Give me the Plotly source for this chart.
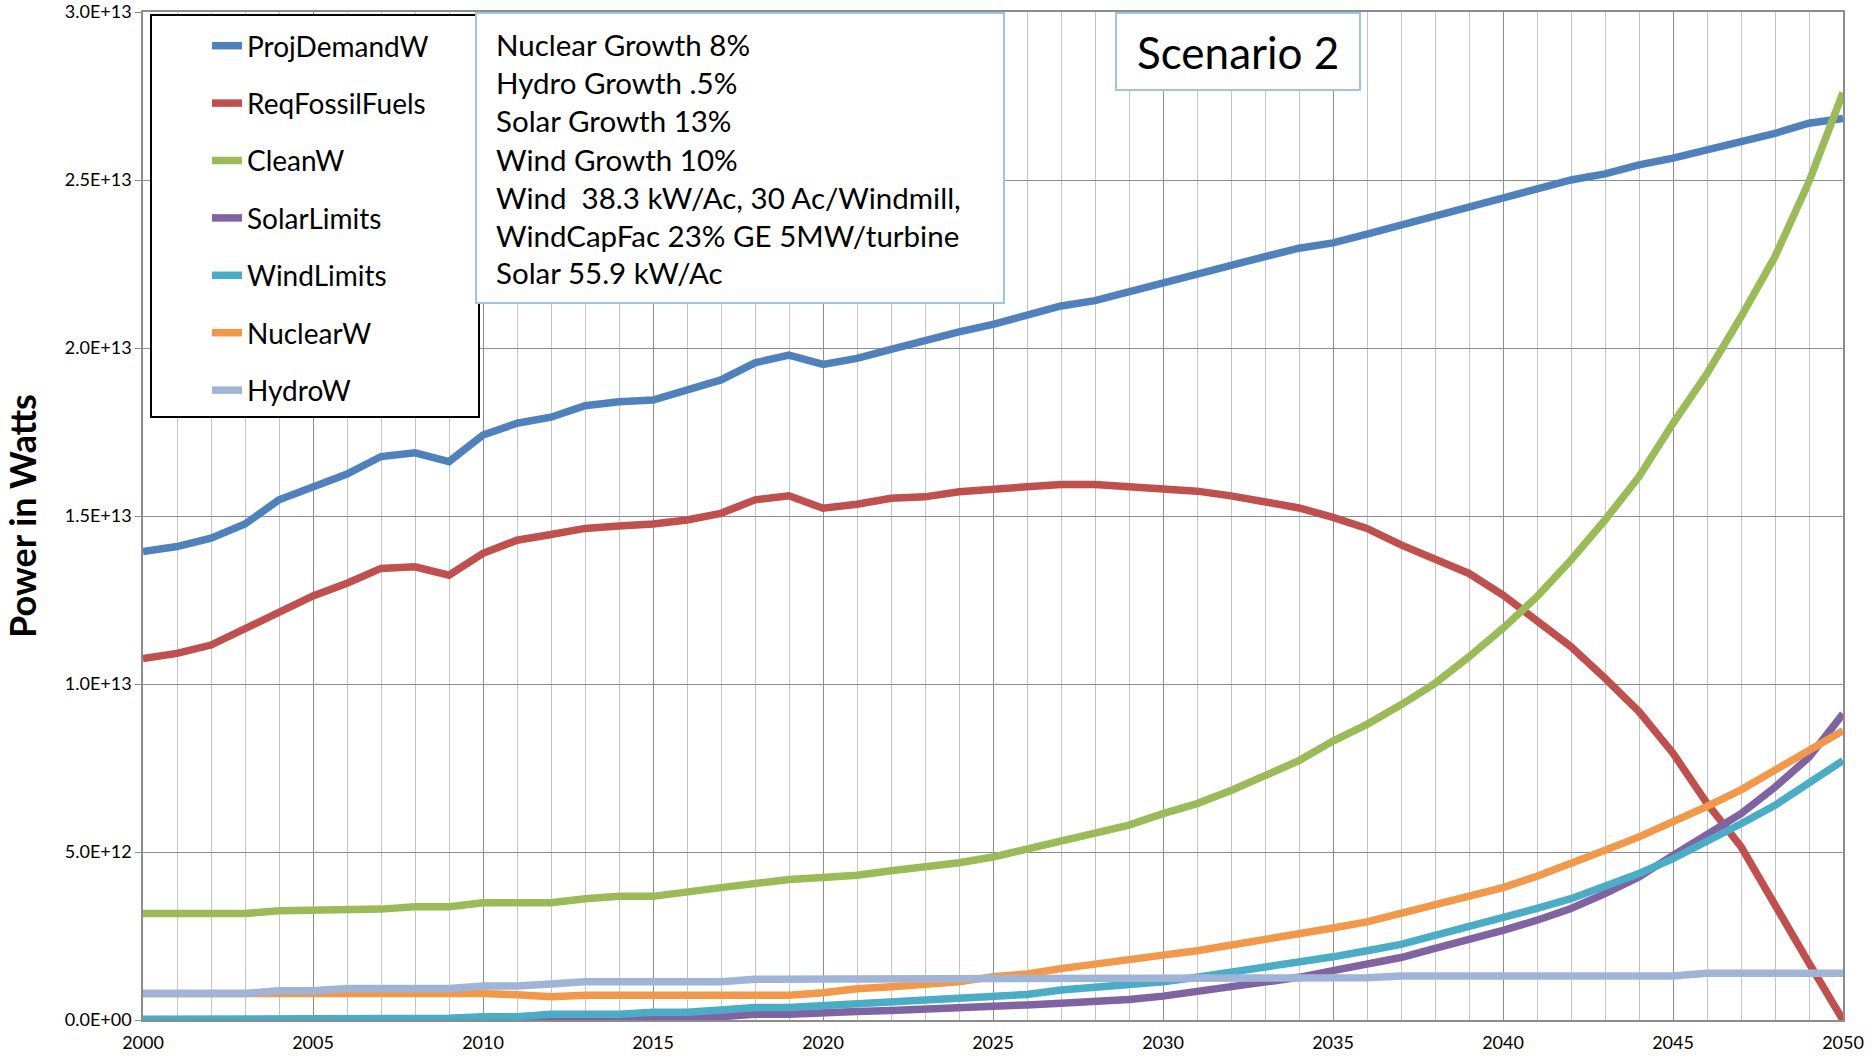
import plotly.graph_objects as go

# ---------------- data (values in units of 1e12 W) ----------------
years = list(range(2000, 2051))

proj_demand = [13.94, 14.09, 14.34, 14.76, 15.48, 15.89, 16.25, 16.77, 16.88, 16.62,
               17.41, 17.76, 17.94, 18.28, 18.40, 18.45, 18.73, 19.05, 19.56, 19.79,
               19.51, 19.69, 19.96, 20.24, 20.48, 20.70, 20.98, 21.25, 21.41, 21.68,
               21.94, 22.20, 22.47, 22.72, 22.97, 23.13, 23.39, 23.66, 23.96, 24.22,
               24.48, 24.75, 25.00, 25.18, 25.45, 25.65, 25.89, 26.14, 26.39, 26.69,
               26.83]
req_fossil = [10.76, 10.91, 11.16, 11.66, 12.15, 12.62, 13.00, 13.44, 13.49, 13.24,
              13.89, 14.28, 14.45, 14.63, 14.70, 14.76, 14.88, 15.08, 15.48, 15.60,
              15.23, 15.35, 15.53, 15.57, 15.72, 15.77, 15.87, 15.94, 15.94, 15.87,
              15.79, 15.74, 15.60, 15.41, 15.24, 14.96, 14.63, 14.14, 13.74, 13.29,
              12.65, 11.90, 11.11, 10.17, 9.18, 7.94, 6.45, 5.16, 3.37, 1.69,
              0.0]
clean = [3.17, 3.17, 3.17, 3.17, 3.25, 3.25, 3.30, 3.30, 3.37, 3.37,
         3.49, 3.49, 3.49, 3.61, 3.68, 3.68, 3.83, 3.94, 4.06, 4.18,
         4.24, 4.31, 4.44, 4.55, 4.68, 4.85, 5.10, 5.30, 5.55, 5.80,
         6.14, 6.44, 6.83, 7.28, 7.72, 8.30, 8.80, 9.38, 10.02, 10.81,
         11.66, 12.60, 13.69, 14.88, 16.17, 17.76, 19.24, 20.93, 22.72, 24.95,
         27.6]
solar_limits = [0.0, 0.0, 0.0, 0.0, 0.0, 0.0, 0.0, 0.0, 0.0, 0.0,
                0.0, 0.0, 0.0, 0.0, 0.0, 0.03, 0.05, 0.10, 0.17, 0.17,
                0.23, 0.25, 0.28, 0.31, 0.35, 0.40, 0.45, 0.50, 0.54, 0.61,
                0.71, 0.84, 0.97, 1.11, 1.27, 1.47, 1.65, 1.86, 2.13, 2.38,
                2.67, 2.97, 3.32, 3.76, 4.26, 4.90, 5.50, 6.14, 6.93, 7.82,
                9.11]
wind_limits = [0.02, 0.02, 0.02, 0.02, 0.02, 0.05, 0.05, 0.05, 0.05, 0.05,
               0.10, 0.10, 0.17, 0.17, 0.17, 0.23, 0.23, 0.30, 0.37, 0.37,
               0.43, 0.50, 0.54, 0.59, 0.63, 0.69, 0.76, 0.89, 0.96, 1.06,
               1.14, 1.27, 1.42, 1.55, 1.73, 1.88, 2.06, 2.25, 2.52, 2.77,
               3.02, 3.32, 3.61, 3.98, 4.36, 4.80, 5.30, 5.84, 6.39, 7.03,
               7.72]
nuclear = [0.79, 0.79, 0.79, 0.79, 0.77, 0.77, 0.81, 0.76, 0.76, 0.76,
           0.79, 0.75, 0.69, 0.74, 0.74, 0.74, 0.74, 0.74, 0.74, 0.74,
           0.81, 0.93, 0.99, 1.04, 1.14, 1.29, 1.37, 1.53, 1.68, 1.80,
           1.93, 2.06, 2.23, 2.40, 2.52, 2.74, 2.92, 3.17, 3.45, 3.68,
           3.94, 4.28, 4.65, 5.05, 5.45, 5.89, 6.36, 6.85, 7.43, 7.97,
           8.61]
hydro = [0.79, 0.79, 0.79, 0.79, 0.87, 0.87, 0.94, 0.94, 0.94, 0.94,
         1.01, 1.01, 1.07, 1.14, 1.14, 1.14, 1.14, 1.14, 1.21, 1.21,
         1.21, 1.21, 1.21, 1.21, 1.21, 1.21, 1.21, 1.26, 1.26, 1.26,
         1.26, 1.26, 1.26, 1.26, 1.26, 1.26, 1.26, 1.31, 1.31, 1.31,
         1.31, 1.31, 1.31, 1.31, 1.31, 1.31, 1.39, 1.39, 1.39, 1.39,
         1.39]

series_names = ["ProjDemandW", "ReqFossilFuels", "CleanW", "SolarLimits",
                "WindLimits", "NuclearW", "HydroW"]
series_values = [proj_demand, req_fossil, clean, solar_limits,
                 wind_limits, nuclear, hydro]
series_colors = ["#4F81BD", "#C0504D", "#9BBB59", "#8064A2",
                 "#4BACC6", "#F2984A", "#A0B4D8"]

y_tick_vals = [0, 5e12, 1e13, 1.5e13, 2e13, 2.5e13, 3e13]
y_tick_text = ["0.0E+00", "5.0E+12", "1.0E+13", "1.5E+13", "2.0E+13", "2.5E+13", "3.0E+13"]
x_tick_vals = list(range(2000, 2051, 5))

info_lines = ["Nuclear Growth 8%",
              "Hydro Growth .5%",
              "Solar Growth 13%",
              "Wind Growth 10%",
              "Wind  38.3 kW/Ac, 30 Ac/Windmill,",
              "WindCapFac 23% GE 5MW/turbine",
              "Solar 55.9 kW/Ac"]
scenario_label = "Scenario 2"
y_title = "Power in Watts"
UNIT = 1e12

FONT = "Lato, 'Open Sans', sans-serif"

# ---------------- figure ----------------
W, H = 1873, 1061
L, T = 143, 12        # plot area top-left (page pixels)
R = W - 1843          # plot area right edge at x 1843
B = H - 1020          # plot area bottom at y 1020
PW, PH = W - L - R, H - T - B


def px(xp):
    """page x pixel -> paper fraction"""
    return (xp - L) / PW


def py(yp):
    """page y pixel -> paper fraction"""
    return (H - B - yp) / PH


fig = go.Figure()
for name, vals, col in zip(series_names, series_values, series_colors):
    fig.add_trace(go.Scatter(
        x=years, y=[v * UNIT for v in vals], mode="lines", name=name,
        legendgroup=name,
        line=dict(color=col, width=7.5),
    ))

shapes = [
    # legend frame
    dict(type="rect", xref="paper", yref="paper",
         x0=px(151), x1=px(479), y0=py(417), y1=py(15),
         line=dict(color="black", width=2), fillcolor="white", layer="above"),
    # info text box
    dict(type="rect", xref="paper", yref="paper",
         x0=px(476), x1=px(1004), y0=py(303), y1=py(13),
         line=dict(color="#9DC3E6", width=2), fillcolor="white", layer="above"),
    # scenario box
    dict(type="rect", xref="paper", yref="paper",
         x0=px(1116), x1=px(1360), y0=py(90), y1=py(13),
         line=dict(color="#9DC3E6", width=2), fillcolor="white", layer="above"),
]

annotations = []
for i, line in enumerate(info_lines):
    annotations.append(dict(
        xref="paper", yref="paper", x=px(494), y=py(45 + i * 38),
        xanchor="left", yanchor="middle", showarrow=False, align="left",
        text=line, font=dict(family=FONT, size=29.5, color="black")))
annotations.append(dict(
    xref="paper", yref="paper", x=px(1238), y=py(52),
    xanchor="center", yanchor="middle", showarrow=False,
    text=scenario_label, font=dict(family=FONT, size=44, color="black")))

fig.update_layout(
    width=W, height=H,
    margin=dict(l=L, r=R, t=T, b=B, autoexpand=False),
    paper_bgcolor="white", plot_bgcolor="white",
    font=dict(family=FONT, color="black"),
    showlegend=True,
    legend=dict(
        x=px(207), y=py(21), xanchor="left", yanchor="top",
        bgcolor="rgba(0,0,0,0)", borderwidth=0,
        font=dict(family=FONT, size=28, color="black"),
        traceorder="grouped", tracegroupgap=18,
        itemwidth=30,
    ),
    shapes=shapes,
    annotations=annotations,
    xaxis=dict(
        range=[2000, 2050], tickmode="array", tickvals=x_tick_vals,
        showgrid=True, gridcolor="#8C8C8C", gridwidth=1.4,
        minor=dict(dtick=1, tick0=2000, showgrid=True, gridcolor="#C4C4C4", gridwidth=1.4),
        showline=True, linecolor="#8C8C8C", linewidth=1.5, mirror=True,
        ticks="outside", ticklen=6, tickcolor="rgba(0,0,0,0)",
        tickfont=dict(family=FONT, size=18, color="black"),
        zeroline=False,
    ),
    yaxis=dict(
        range=[0, 3e13], tickmode="array", tickvals=y_tick_vals, ticktext=y_tick_text,
        showgrid=True, gridcolor="#8C8C8C", gridwidth=1.4,
        showline=True, linecolor="#8C8C8C", linewidth=1.5, mirror=True,
        ticks="outside", ticklen=6, tickcolor="#8C8C8C",
        tickfont=dict(family=FONT, size=18, color="black"),
        ticklabeloverflow="allow",
        zeroline=False,
        title=dict(text="<b>" + y_title + "</b>", standoff=18,
                   font=dict(family=FONT, size=36, color="black")),
    ),
)

# remove the browser's default page margin so the figure sits at (0, 0)
fig.write_html("out.html",
               config={"displayModeBar": False},
               post_script="document.body.style.margin='0';document.body.style.overflow='hidden';")
